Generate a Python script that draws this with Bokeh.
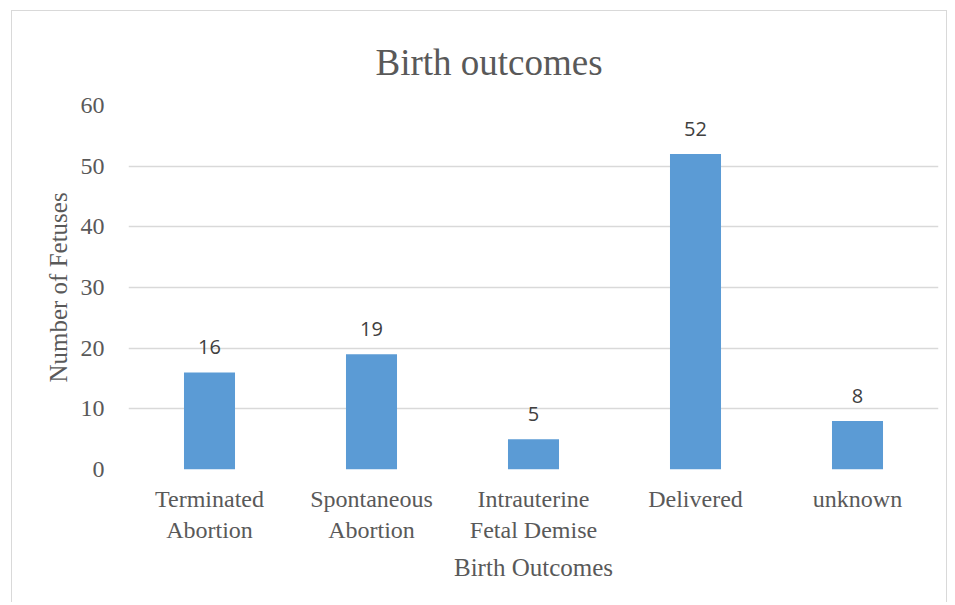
from bokeh.plotting import figure
from bokeh.models import ColumnDataSource, Range1d, FactorRange, SingleIntervalTicker
from bokeh.core.properties import value
from bokeh.embed import file_html
from bokeh.resources import INLINE

categories = ["Terminated\nAbortion", "Spontaneous\nAbortion", "Intrauterine\nFetal Demise", "Delivered", "unknown"]
fetuses = [16, 19, 5, 52, 8]
labels = [str(v) for v in fetuses]

SERIF = "Liberation Serif"
GREY = "#595959"

src = ColumnDataSource(dict(cat=categories, val=fetuses, lab=labels))

p = figure(
    width=936, height=592,
    x_range=FactorRange(factors=categories, range_padding=0),
    y_range=Range1d(0, 60),
    output_backend="svg", toolbar_location=None,
    min_border_left=116, min_border_right=10,
    min_border_top=94, min_border_bottom=134,
    title="Birth outcomes",
)
p.margin = (10, 0, 0, 11)
p.styles = {"border-left": "1px solid #d9d9d9", "border-top": "1px solid #d9d9d9",
            "border-right": "1px solid #d9d9d9"}
p.outline_line_color = None

p.title.text_font = SERIF
p.title.text_font_size = "37px"
p.title.text_font_style = "normal"
p.title.text_color = GREY
p.title.align = "left"
p.title.offset = 247
p.title.standoff = 46

p.vbar(x="cat", top="val", width=0.315, source=src, fill_color="#5B9BD5", line_color=None)
p.text(x="cat", y="val", text="lab", source=src, text_align="center", text_baseline="alphabetic",
       y_offset=-25, text_font=value("Open Sans"), text_font_size="20px", text_color="#404040")

p.yaxis.ticker = SingleIntervalTicker(interval=10)
for ax in (p.xaxis[0], p.yaxis[0]):
    ax.axis_line_color = None
    ax.major_tick_line_color = None
    ax.minor_tick_line_color = None
    ax.major_tick_out = 0
    ax.major_tick_in = 0
    ax.major_label_text_font = SERIF
    ax.major_label_text_font_size = "24px"
    ax.major_label_text_color = GREY
    ax.axis_label_text_font = SERIF
    ax.axis_label_text_font_size = "25px"
    ax.axis_label_text_font_style = "normal"
    ax.axis_label_text_color = GREY

p.yaxis.axis_label = "Number of Fetuses"
p.yaxis.major_label_standoff = 20
p.yaxis.axis_label_standoff = 6
p.xaxis.axis_label = "Birth Outcomes"
p.xaxis.major_label_standoff = 16
p.xaxis.axis_label_standoff = 8

p.xgrid.grid_line_color = None
p.ygrid.grid_line_color = "#d9d9d9"
p.ygrid.grid_line_width = 1.5

open("out.html", "w").write(file_html(p, INLINE))
